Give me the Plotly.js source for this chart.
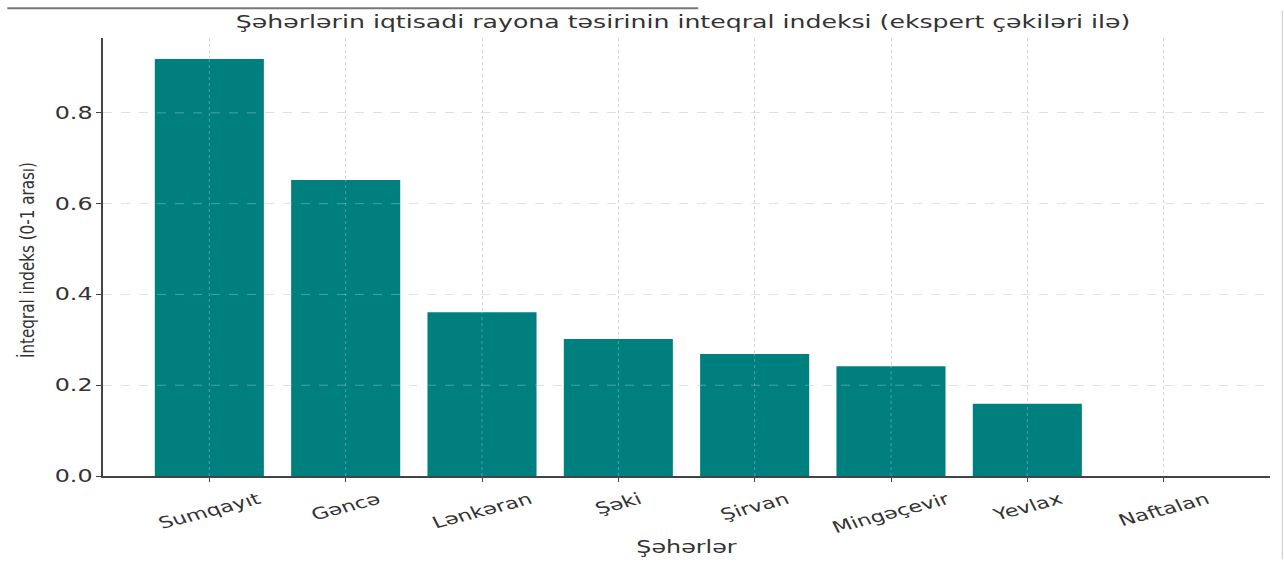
<!DOCTYPE html>
<html>
<head>
<meta charset="utf-8">
<script src="https://cdn.plot.ly/plotly-3.0.1.min.js"></script>
<style>html,body{margin:0;padding:0;background:#fff;}#chart{width:1284px;height:564px;}</style>
</head>
<body>
<div id="chart"></div>
<script>
const cities = ["Sumqayıt", "Gəncə", "Lənkəran", "Şəki", "Şirvan", "Mingəçevir", "Yevlax", "Naftalan"];
const indexValues = [0.919, 0.652, 0.361, 0.302, 0.269, 0.242, 0.159, 0.0];
const yTicks = [0, 0.2, 0.4, 0.6, 0.8];
const yTickLabels = ["0.0", "0.2", "0.4", "0.6", "0.8"];

const trace = {
  type: "bar",
  x: cities,
  y: indexValues,
  width: 0.8,
  marker: { color: "#007f7f", line: { width: 0 } },
  hoverinfo: "x+y"
};

// grid lines repeated above the bars (white, translucent: only visible over the teal)
const gridOverBars = [];
cities.forEach(c => gridOverBars.push({ type: "line", layer: "above", xref: "x", yref: "paper", x0: c, x1: c, y0: 0, y1: 1,
  line: { color: "rgba(255,255,255,0.28)", width: 1, dash: "dot" } }));
yTicks.slice(1).forEach(v => gridOverBars.push({ type: "line", layer: "above", xref: "paper", yref: "y", x0: 0, x1: 1, y0: v, y1: v,
  line: { color: "rgba(255,255,255,0.28)", width: 1, dash: "dash" } }));

const font = "DejaVu Sans, Verdana, sans-serif";
const layout = {
  width: 1284, height: 564,
  margin: { l: 103, r: 14, t: 38, b: 88 },
  paper_bgcolor: "#ffffff", plot_bgcolor: "#ffffff",
  showlegend: false,
  title: { text: "Şəhərlərin iqtisadi rayona təsirinin inteqral indeksi (ekspert çəkiləri ilə)",
           font: { family: font, size: 18, color: "#333333" },
           x: 0.532, xanchor: "center", y: 0.962, yanchor: "middle", automargin: false },
  xaxis: {
    type: "category",
    range: [-0.78, 7.78],
    tickangle: -20,
    automargin: false,
    tickfont: { family: font, size: 16, color: "#333333" },
    showline: true, linecolor: "#444444", linewidth: 2,
    ticks: "outside", ticklen: 4, tickcolor: "#444444",
    showgrid: true, gridcolor: "#d4d4d4", griddash: "dot", gridwidth: 1,
    zeroline: false,
    title: { text: "Şəhərlər", font: { family: font, size: 17, color: "#333333" }, standoff: 8 }
  },
  yaxis: {
    range: [0, 0.965],
    automargin: false,
    tickvals: yTicks, ticktext: yTickLabels,
    tickfont: { family: font, size: 17, color: "#333333" },
    showline: true, linecolor: "#444444", linewidth: 2,
    ticks: "outside", ticklen: 5, tickcolor: "#444444",
    showgrid: true, gridcolor: "#d9d9d9", griddash: "dash", gridwidth: 1,
    zeroline: false,
    title: { text: "İnteqral indeks (0-1 arası)", font: { family: font, size: 20, color: "#333333" }, standoff: 10 }
  },
  shapes: gridOverBars.concat([
    { type: "line", xref: "paper", yref: "paper", x0: -0.082, x1: 0.51, y0: 1.068, y1: 1.068, line: { color: "#777777", width: 2 } },
    { type: "line", xref: "paper", yref: "paper", x0: 1.0105, x1: 1.0105, y0: 1.062, y1: -0.19, line: { color: "#c4c4c4", width: 1 } }
  ])
};

const S = 1.4;
function stretchAbout(el, cxScreen, dx, dy) {
  const pm = el.parentNode.getScreenCTM();
  const cx = (cxScreen - pm.e) / pm.a;
  const old = el.getAttribute("transform") || "";
  el.setAttribute("transform",
    `translate(${dx || 0},${dy || 0}) translate(${cx},0) scale(${S},1) translate(${-cx},0) ${old}`);
}

const gd = document.getElementById("chart");
Plotly.newPlot(gd, [trace], layout, { displayModeBar: false, staticPlot: true }).then(() => {
  const gr = gd.getBoundingClientRect();
  const t = gd.querySelector(".gtitle");
  if (t) { const r = t.getBoundingClientRect(); stretchAbout(t, r.left + r.width / 2); }
  const xt = gd.querySelector(".xtitle");
  if (xt) { const r = xt.getBoundingClientRect(); stretchAbout(xt, r.left + r.width / 2); }
  const yt = gd.querySelector(".ytitle");
  if (yt) {
    const r = yt.getBoundingClientRect();
    const targetLen = 196;
    const sy = targetLen / r.height;
    const pm = yt.parentNode.getScreenCTM();
    const cyScreen = r.top + r.height / 2;
    const cy = (cyScreen - pm.f) / pm.d;
    const dx = gr.left + 27 - (r.left + r.width / 2);
    const dy = gr.top + 260 - cyScreen;
    const old = yt.getAttribute("transform") || "";
    yt.setAttribute("transform",
      `translate(${dx},${dy}) translate(0,${cy}) scale(1,${sy}) translate(0,${-cy}) ${old}`);
  }
  gd.querySelectorAll(".ytick text").forEach(el => {
    const r = el.getBoundingClientRect(); stretchAbout(el, r.right);
  });
  const xa = gd._fullLayout.xaxis;
  gd.querySelectorAll(".xtick text").forEach(el => {
    const d = el.__data__;
    const r = el.getBoundingClientRect();
    const c = r.left + r.width / 2;
    const tickX = gr.left + xa._offset + xa.l2p(d.x);
    const topTarget = gr.top + 489;
    stretchAbout(el, c, tickX - c, topTarget - r.top);
  });
});
</script>
</body>
</html>
